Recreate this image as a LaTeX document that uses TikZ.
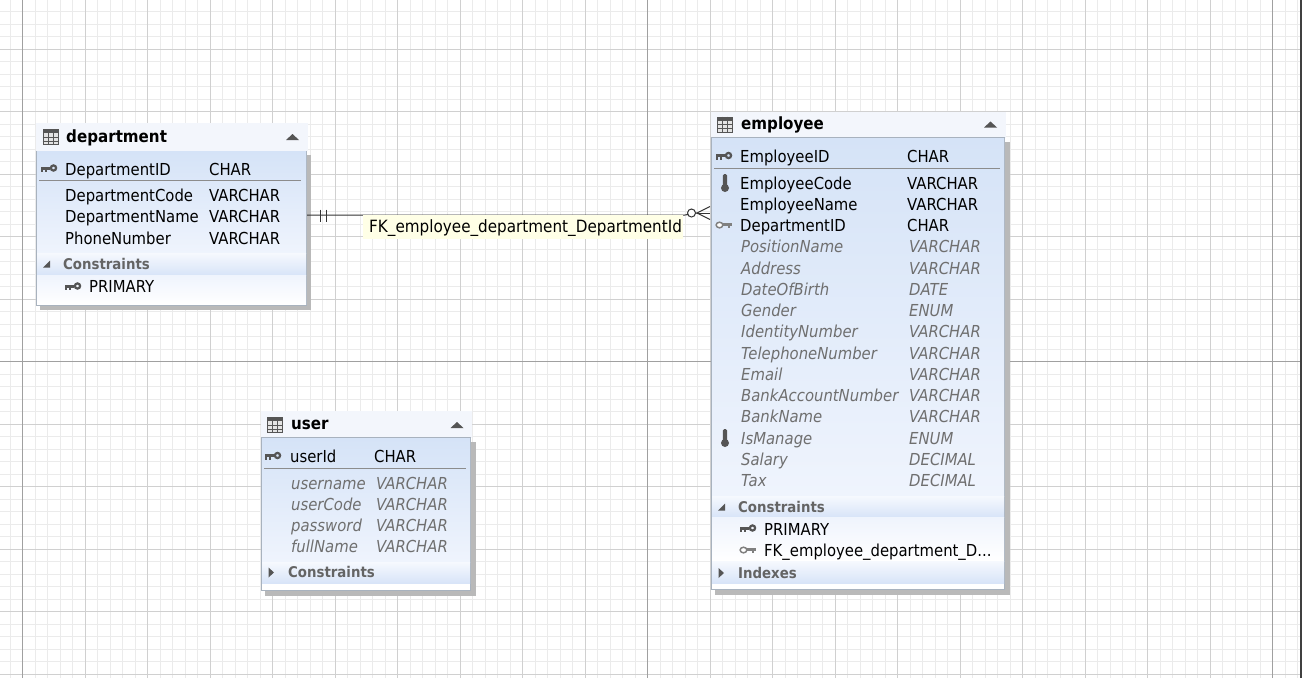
\documentclass[tikz,border=0pt]{standalone}
\usepackage{fontspec}
\setmainfont{DejaVu Sans}[FakeStretch=0.9]
\definecolor{gridminor}{HTML}{EBEBEB}
\definecolor{gridmedium}{HTML}{D0D0D0}
\definecolor{gridmajor}{HTML}{A0A0A0}
\definecolor{headfill}{HTML}{F3F6FC}
\definecolor{bluetop}{HTML}{D5E3F7}
\definecolor{bluebottom}{HTML}{EFF4FD}
\definecolor{bandtop}{HTML}{F6F9FE}
\definecolor{bandbottom}{HTML}{D8E4F8}
\definecolor{edgegray}{HTML}{A8B2BE}
\definecolor{shadowgray}{HTML}{B9B9B9}
\definecolor{icongray}{HTML}{555555}
\definecolor{dimtext}{HTML}{6F6F6F}
\definecolor{notefill}{HTML}{FFFFE6}
\tikzset{
  tablehead/.style={anchor=north west, inner sep=0, outer sep=0, fill=headfill},
  tablebody/.style={anchor=north west, inner sep=0, outer sep=0, draw=edgegray, line width=1pt, fill=white},
  field/.style={anchor=base west, inner sep=0, font=\fontsize{16.5}{16.5}\selectfont, text=black},
  dimfield/.style={anchor=base west, inner sep=0, font=\fontsize{16.5}{16.5}\selectfont\itshape, text=dimtext},
  tabletitle/.style={anchor=base west, inner sep=0, font=\fontsize{16.8}{16.8}\selectfont\bfseries, text=black},
  bandtitle/.style={anchor=base west, inner sep=0, font=\fontsize{14.8}{14.8}\selectfont\bfseries, text=dimtext!90!black},
  bluepart/.style={top color=bluetop, bottom color=bluebottom},
  bandpart/.style={top color=bandtop, bottom color=bandbottom},
  whitepart/.style={top color=bluebottom, bottom color=white},
  seprule/.style={draw=black!45, line width=1pt},
  relline/.style={draw=black!80, line width=1pt},
}
% icons, placed by their centre
\newcommand{\pkicon}[2]{%
  \fill [icongray] (#1-8,#2-1.5) rectangle (#1+1,#2+1.5);
  \fill [icongray] (#1-8,#2) rectangle (#1-6,#2+4);
  \fill [icongray] (#1-4.5,#2) rectangle (#1-2.5,#2+4);
  \draw [icongray, line width=2.2pt] (#1+4.5,#2) circle (2.6);
}
\newcommand{\fkicon}[2]{%
  \fill [gray] (#1-2,#2-1.8) rectangle (#1+8,#2+1.2);
  \fill [gray] (#1+4,#2) rectangle (#1+6,#2+2.8);
  \draw [gray, line width=1.5pt, fill=white] (#1-4.5,#2) ellipse (3.4 and 2.8);
}
\newcommand{\idxicon}[2]{%
  \fill [icongray, rounded corners=1.5pt] (#1-2.2,#2-9) rectangle (#1+2.2,#2+4);
  \fill [icongray] (#1,#2+5) circle (4);
}
\newcommand{\tableicon}[2]{%
  \fill [gridmedium!60!white] (#1,#2) rectangle (#1+16,#2+16);
  \fill [icongray] (#1,#2) rectangle (#1+16,#2+4);
  \draw [icongray, line width=1pt] (#1+.5,#2+.5) rectangle (#1+15.5,#2+15.5);
  \draw [icongray, line width=1pt] (#1+5.5,#2) -- (#1+5.5,#2+16) (#1+10.5,#2) -- (#1+10.5,#2+16);
  \draw [icongray, line width=1pt] (#1,#2+8) -- (#1+16,#2+8) (#1,#2+12) -- (#1+16,#2+12);
}
\newcommand{\upmark}[2]{\fill [icongray] (#1-6.5,#2+3) -- (#1+6.5,#2+3) -- (#1,#2-3) -- cycle;}
\newcommand{\openmark}[2]{\fill [icongray] (#1+3.5,#2-3.5) -- (#1+3.5,#2+3.5) -- (#1-3.5,#2+3.5) -- cycle;}
\newcommand{\shutmark}[2]{\fill [icongray] (#1-2.5,#2-5) -- (#1+3,#2) -- (#1-2.5,#2+5) -- cycle;}
\begin{document}
\begin{tikzpicture}[x=1pt,y=-1pt]
  \useasboundingbox (0,0) rectangle (1302,678);
  \fill [white] (0,0) rectangle (1302,678);

  % background grid
  \foreach \i in {0,...,103}
    \draw [gridminor, line width=1pt] ({10+12.5*\i},0) -- ({10+12.5*\i},678);
  \foreach \i in {0,...,53}
    \draw [gridminor, line width=1pt] (0,{11.5+12.5*\i}) -- (1302,{11.5+12.5*\i});
  \foreach \i in {0,...,20}
    \draw [gridmedium, line width=1pt] ({22.5+62.5*\i},0) -- ({22.5+62.5*\i},678);
  \foreach \i in {0,...,10}
    \draw [gridmedium, line width=1pt] (0,{49+62.5*\i}) -- (1302,{49+62.5*\i});
  \draw [gridmajor, line width=1pt] (22.5,0) -- (22.5,678);
  \draw [gridmajor, line width=1pt] (647.5,0) -- (647.5,678);
  \draw [gridmajor, line width=1pt] (1272.5,0) -- (1272.5,678);
  \draw [gridmajor, line width=1pt] (0,361.5) -- (1302,361.5);
  \fill [black!75] (1300,0) rectangle (1302,678);

  % department
  \fill [shadowgray] (40,155) rectangle (311,310);
  \node (departmentHead) [tablehead, minimum width=272pt, minimum height=28pt] at (35.5,123) {};
  \node (department) [tablebody, minimum width=270pt, minimum height=154pt] at (36.5,151) {};
  \fill [bluepart] (37,151.5) rectangle (306,253);
  \fill [bandpart] (37,253) rectangle (306,275);
  \fill [whitepart] (37,275) rectangle (306,304.5);
  \tableicon{42.5}{129}
  \node (departmentTitle) [tabletitle] at (66,142) {department};
  \upmark{292.5}{137}
  \pkicon{49}{168}
  \node (deptId) [field] at (65,175) {DepartmentID};
  \node (deptIdType) [field] at (209,175) {CHAR};
  \draw [seprule] (39,180.5) -- (301,180.5);
  \node (deptCode) [field] at (65,201) {DepartmentCode};
  \node (deptCodeType) [field] at (209,201) {VARCHAR};
  \node (deptName) [field] at (65,222) {DepartmentName};
  \node (deptNameType) [field] at (209,222) {VARCHAR};
  \node (deptPhone) [field] at (65,244) {PhoneNumber};
  \node (deptPhoneType) [field] at (209,244) {VARCHAR};
  \openmark{46.5}{264}
  \node (deptConstraints) [bandtitle] at (63,269) {Constraints};
  \pkicon{73}{286}
  \node (deptPrimary) [field] at (89,292) {PRIMARY};

  % employee
  \fill [shadowgray] (715,142) rectangle (1009.5,595);
  \node (employeeHead) [tablehead, minimum width=295pt, minimum height=26pt] at (710.5,112) {};
  \node (employee) [tablebody, minimum width=293pt, minimum height=452pt] at (711.5,137.5) {};
  \fill [bluepart] (712,138) rectangle (1004,496);
  \fill [bandpart] (712,496) rectangle (1004,517);
  \fill [whitepart] (712,517) rectangle (1004,561);
  \fill [bandpart] (712,561) rectangle (1004,583);
  \tableicon{717}{116.5}
  \node (employeeTitle) [tabletitle] at (741,129) {employee};
  \upmark{990.5}{124.5}
  \pkicon{724}{155.5}
  \node (empId) [field] at (740,162) {EmployeeID};
  \node (empIdType) [field] at (907,162) {CHAR};
  \draw [seprule] (714,168.5) -- (1000,168.5);
  \idxicon{725}{183}
  \node (empCode) [field] at (740,189) {EmployeeCode};
  \node (empCodeType) [field] at (907,189) {VARCHAR};
  \node (empName) [field] at (740,210) {EmployeeName};
  \node (empNameType) [field] at (907,210) {VARCHAR};
  \fkicon{724}{225}
  \node (empDept) [field] at (740,231) {DepartmentID};
  \node (empDeptType) [field] at (907,231) {CHAR};
  \node (empPosition) [dimfield] at (741,252) {PositionName};
  \node (empPositionType) [dimfield] at (909,252) {VARCHAR};
  \node (empAddress) [dimfield] at (741,274) {Address};
  \node (empAddressType) [dimfield] at (909,274) {VARCHAR};
  \node (empBirth) [dimfield] at (741,295) {DateOfBirth};
  \node (empBirthType) [dimfield] at (909,295) {DATE};
  \node (empGender) [dimfield] at (741,316) {Gender};
  \node (empGenderType) [dimfield] at (909,316) {ENUM};
  \node (empIdentity) [dimfield] at (741,337) {IdentityNumber};
  \node (empIdentityType) [dimfield] at (909,337) {VARCHAR};
  \node (empPhone) [dimfield] at (741,359) {TelephoneNumber};
  \node (empPhoneType) [dimfield] at (909,359) {VARCHAR};
  \node (empEmail) [dimfield] at (741,380) {Email};
  \node (empEmailType) [dimfield] at (909,380) {VARCHAR};
  \node (empAccount) [dimfield] at (741,401) {BankAccountNumber};
  \node (empAccountType) [dimfield] at (909,401) {VARCHAR};
  \node (empBank) [dimfield] at (741,422) {BankName};
  \node (empBankType) [dimfield] at (909,422) {VARCHAR};
  \idxicon{725}{438}
  \node (empManage) [dimfield] at (741,444) {IsManage};
  \node (empManageType) [dimfield] at (909,444) {ENUM};
  \node (empSalary) [dimfield] at (741,465) {Salary};
  \node (empSalaryType) [dimfield] at (909,465) {DECIMAL};
  \node (empTax) [dimfield] at (741,486) {Tax};
  \node (empTaxType) [dimfield] at (909,486) {DECIMAL};
  \openmark{721.5}{507}
  \node (empConstraints) [bandtitle] at (738,512) {Constraints};
  \pkicon{748}{528}
  \node (empPrimary) [field] at (764,535) {PRIMARY};
  \fkicon{748}{550}
  \node (empForeign) [field] at (764,556) {FK\_employee\_department\_D...};
  \shutmark{721}{573}
  \node (empIndexes) [bandtitle] at (738,578) {Indexes};

  % user
  \fill [shadowgray] (265,442) rectangle (476,596);
  \node (userHead) [tablehead, minimum width=211pt, minimum height=27pt] at (260.5,411) {};
  \node (user) [tablebody, minimum width=209pt, minimum height=152.5pt] at (261.5,437.5) {};
  \fill [bluepart] (262,438) rectangle (470,562);
  \fill [bandpart] (262,562) rectangle (470,583);
  \tableicon{267}{417}
  \node (userTitle) [tabletitle] at (291,429) {user};
  \upmark{457}{425}
  \pkicon{273}{455.5}
  \node (userId) [field] at (290,462) {userId};
  \node (userIdType) [field] at (374,462) {CHAR};
  \draw [seprule] (264,468.5) -- (466,468.5);
  \node (userName) [dimfield] at (291,489) {username};
  \node (userNameType) [dimfield] at (376,489) {VARCHAR};
  \node (userCode) [dimfield] at (291,510) {userCode};
  \node (userCodeType) [dimfield] at (376,510) {VARCHAR};
  \node (userPassword) [dimfield] at (291,531) {password};
  \node (userPasswordType) [dimfield] at (376,531) {VARCHAR};
  \node (userFull) [dimfield] at (291,552) {fullName};
  \node (userFullType) [dimfield] at (376,552) {VARCHAR};
  \shutmark{271}{572.5}
  \node (userConstraints) [bandtitle] at (288,577) {Constraints};

  % relation
  \coordinate (fromDept) at (307,215);
  \coordinate (bendEmp) at (685,215);
  \coordinate (manyEmp) at (697,213);
  \coordinate (toEmpA) at (710,206.5);
  \coordinate (toEmpB) at (710,213);
  \coordinate (toEmpC) at (710,219.5);
  \draw [relline] (fromDept) -- (bendEmp) -- (manyEmp);
  \node (fkLabel) [anchor=north west, inner sep=0, outer sep=0, fill=notefill, minimum width=320pt, minimum height=24pt] at (363,214.5) {};
  \node (fkText) [field, font=\fontsize{16.9}{16.9}\selectfont] at (369,232) {FK\_employee\_department\_DepartmentId};
  \draw [relline, fill=white] (691.5,213) circle (4);
  \draw [relline] (320,209.5) -- (320,221.5);
  \draw [relline] (326,209.5) -- (326,221.5);
  \draw [relline] (toEmpA) -- (manyEmp) -- (toEmpC);
  \draw [relline] (manyEmp) -- (toEmpB);
\end{tikzpicture}
\end{document}
